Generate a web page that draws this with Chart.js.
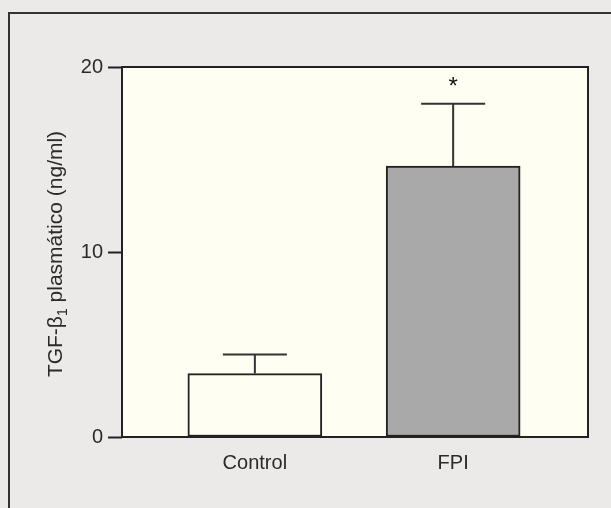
<!DOCTYPE html>
<html>
<head>
<meta charset="utf-8">
<script src="https://cdn.jsdelivr.net/npm/chart.js@4"></script>
<style>
  html, body { margin: 0; padding: 0; background: #ebeae8; }
  canvas { display: block; }
</style>
</head>
<body>
<canvas id="tgfChart" width="611" height="508"></canvas>
<script>
// datos
const categories = ['Control', 'FPI'];
const means = [3.43, 14.64];
const errorsUp = [1.03, 3.38];
const marks = ['', '*'];
const yTicks = [0, 10, 20];

const FONT = "'Liberation Sans', Arial, sans-serif";
const INK = '#2a2a2a';
const CREAM = '#fefef2';

// fondo, marco y título del eje Y
const framePlugin = {
    id: 'frame',
    beforeDraw(chart) {
        const c = chart.ctx, a = chart.chartArea;
        c.save();
        c.fillStyle = '#ebeae8';
        c.fillRect(0, 0, chart.width, chart.height);
        c.strokeStyle = '#333';
        c.lineWidth = 2;
        c.beginPath();
        c.moveTo(9, chart.height);
        c.lineTo(9, 13);
        c.lineTo(chart.width, 13);
        c.stroke();
        c.fillStyle = CREAM;
        c.fillRect(a.left, a.top, a.right - a.left, a.bottom - a.top);
        c.restore();
    },
    afterDraw(chart) {
        const c = chart.ctx, a = chart.chartArea;
        c.save();
        c.strokeStyle = '#222';
        c.lineWidth = 2;
        c.strokeRect(a.left, a.top, a.right - a.left, a.bottom - a.top);

        // título con subíndice
        c.translate(55, (a.top + a.bottom) / 2 + 2);
        c.rotate(-Math.PI / 2);
        c.fillStyle = INK;
        c.textBaseline = 'alphabetic';
        const big = '21px ' + FONT, small = '14px ' + FONT;
        const p1 = 'TGF-\u03b2', p2 = '1', p3 = ' plasmático (ng/ml)';
        c.font = big;
        const w1 = c.measureText(p1).width, w3 = c.measureText(p3).width;
        c.font = small;
        const w2 = c.measureText(p2).width;
        let x = -(w1 + w2 + w3) / 2;
        const base = 7;
        c.font = big; c.fillText(p1, x, base); x += w1;
        c.font = small; c.fillText(p2, x, base + 5); x += w2;
        c.font = big; c.fillText(p3, x, base);
        c.restore();
    }
};

// barras de error y asterisco
const errorPlugin = {
    id: 'errors',
    afterDatasetsDraw(chart) {
        const c = chart.ctx, xs = chart.scales.x, ys = chart.scales.y;
        c.save();
        c.strokeStyle = '#333';
        c.lineWidth = 2;
        means.forEach((m, i) => {
            const px = xs.getPixelForValue(i + 1);
            const top = ys.getPixelForValue(m + errorsUp[i]);
            const bot = ys.getPixelForValue(m);
            c.beginPath();
            c.moveTo(px, bot);
            c.lineTo(px, top);
            c.moveTo(px - 32, top);
            c.lineTo(px + 32, top);
            c.stroke();
            if (marks[i]) {
                c.fillStyle = '#111';
                c.font = '24px ' + FONT;
                c.textAlign = 'center';
                c.textBaseline = 'middle';
                c.fillText(marks[i], px, top - 16);
            }
        });
        c.restore();
    }
};

const ctx = document.getElementById('tgfChart').getContext('2d');
new Chart(ctx, {
    type: 'bar',
    data: {
        datasets: [{
            data: means.map((v, i) => ({ x: i + 1, y: v })),
            backgroundColor: [CREAM, '#a9a9a9'],
            borderColor: '#222',
            borderWidth: 2,
            borderSkipped: false,
            barThickness: 134
        }]
    },
    options: {
        responsive: false,
        animation: false,
        layout: { padding: { top: 67, right: 23, left: 0, bottom: 0 } },
        plugins: { legend: { display: false }, tooltip: { enabled: false } },
        scales: {
            x: {
                type: 'linear',
                offset: false,
                min: 0.33,
                max: 2.68,
                afterBuildTicks: s => { s.ticks = categories.map((_, i) => ({ value: i + 1 })); },
                afterFit: s => { s.height = 508 - 437; },
                grid: { display: false },
                border: { display: false },
                ticks: {
                    padding: 6,
                    color: INK,
                    font: { family: FONT, size: 20 },
                    callback: v => categories[v - 1] || ''
                }
            },
            y: {
                min: yTicks[0],
                max: yTicks[yTicks.length - 1],
                afterBuildTicks: s => { s.ticks = yTicks.map(v => ({ value: v })); },
                afterFit: s => { s.width = 122; },
                grid: {
                    drawOnChartArea: false,
                    tickLength: 14,
                    tickWidth: 2,
                    tickColor: '#222'
                },
                border: { display: false },
                ticks: {
                    padding: 5,
                    color: INK,
                    font: { family: FONT, size: 20 }
                }
            }
        }
    },
    plugins: [framePlugin, errorPlugin]
});
</script>
</body>
</html>
